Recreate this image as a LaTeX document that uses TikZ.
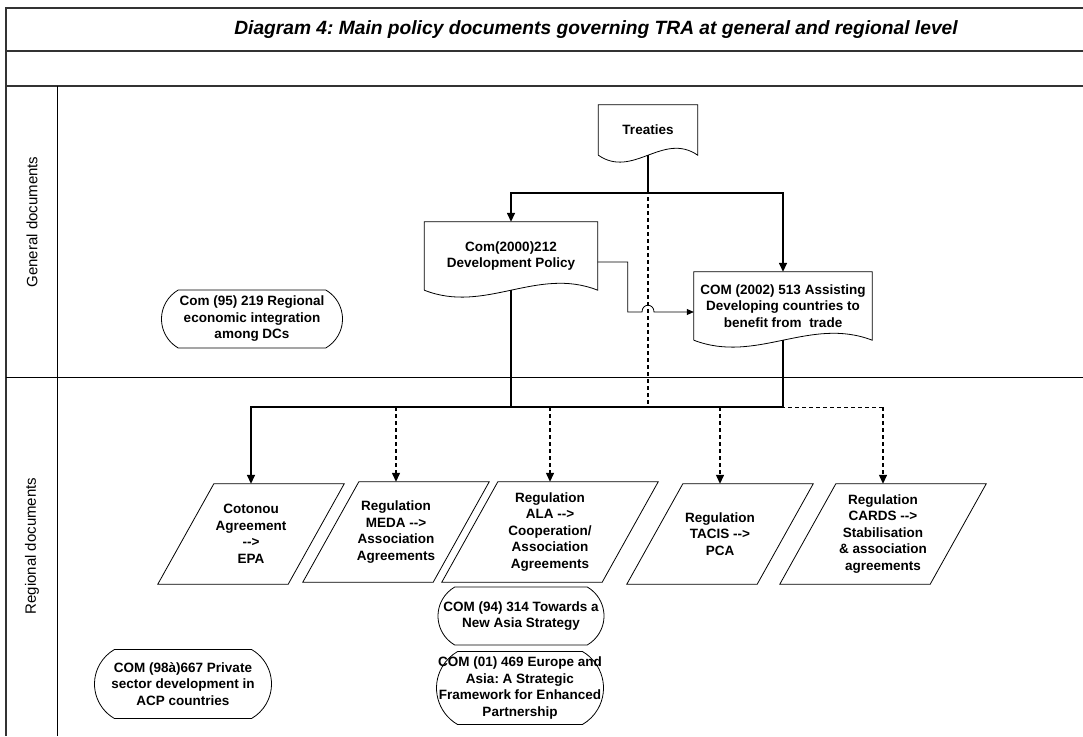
\documentclass[tikz,border=0pt]{standalone}
\usepackage{fontspec}
\setmainfont{Liberation Sans}
\usetikzlibrary{arrows.meta,calc,shapes.misc}

% outline of a document node: straight top and sides, wavy bottom
\newcommand{\docwave}[1]{%
  \draw[line width=0.8pt] (#1.south west) -- (#1.north west) -- (#1.north east) -- (#1.south east)
    .. controls ($(#1.south east)!0.35!(#1.south west)+(0,-24)$) and ($(#1.south east)!0.65!(#1.south west)+(0,24)$) .. (#1.south west);}
% outline of a data node: parallelogram leaning right
\newcommand{\slantbox}[1]{%
  \draw[line width=0.8pt] (#1.south west) -- ($(#1.north west)+(56,0)$) -- (#1.north east)
    -- ($(#1.south east)+(-56,0)$) -- cycle;}

\frenchspacing
\begin{document}
\begin{tikzpicture}[x=1pt, y=-1pt,
  every node/.style={font=\fontsize{13.5}{16.5}\selectfont\bfseries, align=center},
  doc/.style={rectangle, inner sep=2pt},
  regbox/.style={rectangle, minimum width=186pt, minimum height=100pt, inner sep=0pt},
  term/.style={rounded rectangle, draw, line width=0.8pt, rounded rectangle arc length=120,
    inner xsep=0pt, inner ysep=2pt},
  flow/.style={line width=1.5pt},
  dflow/.style={line width=1.3pt, dash pattern=on 4pt off 3pt},
  arr/.style={-{Triangle[length=9pt,width=8pt]}},
  lane/.style={line width=0.8pt},
  rule/.style={line width=1.3pt, black!80}]
\useasboundingbox (0,0) rectangle (1083,736);

% frame and swim lanes
\draw[rule] (1083,8) -- (6,8) -- (6,736);
\draw[rule] (6,51) -- (1083,51) (6,86) -- (1083,86);
\draw[lane] (57,86) -- (57,736) (6,377) -- (1083,377);
\node[font=\fontsize{19.2}{22}\selectfont\bfseries\itshape] (title) at (596,30)
  {Diagram 4: Main policy documents governing TRA at general and regional level};
\node[rotate=90, font=\fontsize{15}{18}\selectfont] (gen) at (32,222) {General documents};
\node[rotate=90, font=\fontsize{15}{18}\selectfont] (reg) at (32,546) {Regional documents};

% general documents
\node[doc, minimum width=99pt, minimum height=50pt] (treaties) at (648,130) {Treaties};
\node[doc, minimum width=173pt, minimum height=68pt] (com2000) at (511,256) {Com(2000)212\\Development Policy};
\node[doc, minimum width=178pt, minimum height=68pt] (com2002) at (783,306)
  {COM (2002) 513 Assisting\\Developing countries to\\benefit from\ \ trade};
\foreach \n in {treaties,com2000,com2002} \docwave{\n};
\node[term, minimum width=181pt, minimum height=58pt] (rie) at (252,319)
  {Com (95) 219 Regional\\economic integration\\among DCs};

% regional documents
\node[regbox] (cotonou) at (251,534) {Cotonou\\Agreement\\-{}->\\EPA};
\node[regbox] (meda) at (396,532) {Regulation\\MEDA -{}->\\Association\\Agreements};
\node[regbox, minimum width=216pt] (ala) at (550,532) {Regulation\\ALA -{}->\\Cooperation/\\Association\\Agreements};
\node[regbox] (tacis) at (720,534) {Regulation\\TACIS -{}->\\PCA};
\node[regbox, minimum width=206pt] (cards) at (883,534)
  {Regulation\\CARDS -{}->\\Stabilisation\\\& association\\agreements};
\foreach \n in {cotonou,meda,ala,tacis,cards} \slantbox{\n};
\node[term, minimum width=166pt, minimum height=58pt] (asia) at (521,616)
  {COM (94) 314 Towards a\\New Asia Strategy};
\node[term, minimum width=167pt, minimum height=73pt,
  label={center:COM (01) 469 Europe and\\Asia: A Strategic\\Framework for Enhanced\\Partnership}] (asiafw) at (520,688) {};
\node[term, minimum width=177pt, minimum height=69pt] (psd) at (183,684)
  {COM (98à)667 Private\\sector development in\\ACP countries};

% connectors
\draw[flow] (treaties.south) -- ++(0,38) coordinate (tbus);
\draw[flow, arr] (tbus) -| (com2000.north);
\draw[flow, arr] (tbus) -| (com2002.north);
\coordinate (link) at ([yshift=-6pt]com2002.west);
\draw[line width=0.8pt, -{Triangle[length=7pt,width=6pt]}] ([yshift=-6pt]com2000.east) -- ++(30,0)
  |- ($(treaties.south |- link)+(-6,0)$) .. controls +(0,-9) and +(0,-9) .. ($(treaties.south |- link)+(6,0)$) -- (link);
\draw[flow] (com2002.south) -- ++(0,67) coordinate (rbus);
\draw[flow, arr] (rbus) -| (cotonou.north);
\draw[flow] (com2000.south) -- (com2000.south |- rbus);
\draw[dflow] (treaties.south) -- (treaties.south |- rbus);
\draw[dflow] (meda.north |- rbus) -- (cards.north |- rbus);
\foreach \n in {meda,ala,tacis,cards} \draw[dflow, arr] (\n.north |- rbus) -- (\n.north);
\end{tikzpicture}
\end{document}
